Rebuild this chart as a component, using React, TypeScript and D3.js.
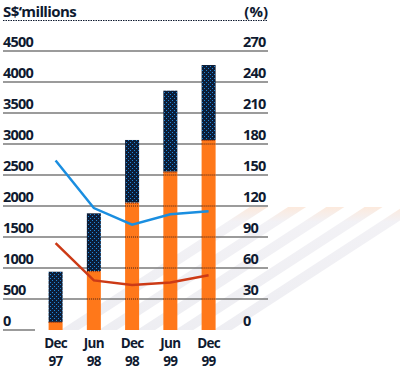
import React, { useEffect, useRef } from "react";
import * as d3 from "d3";

const periods = ["Dec 97", "Jun 98", "Dec 98", "Jun 99", "Dec 99"];
const lowerValues = [130, 950, 2053, 2553, 3065];
const totalValues = [940, 1882, 3065, 3860, 4274];
const bluePct = [164, 118, 102, 112, 115];
const redPct = [84, 48, 43.5, 46, 53];
const leftTicks = [0, 500, 1000, 1500, 2000, 2500, 3000, 3500, 4000, 4500];
const rightTicks = [0, 30, 60, 90, 120, 150, 180, 210, 240, 270];

const W = 400;
const H = 371;

const App: React.FC = () => {
	const ref = useRef<SVGSVGElement>(null);

	useEffect(() => {
		const svg = d3.select(ref.current);
		svg.selectAll("*").remove();

		const font = "'Open Sans', 'Noto Sans', sans-serif";
		const ink = "#0f1a30";
		const gridLeft = 3;
		const gridRight = 268;

		const yL = d3.scaleLinear().domain([0, 4500]).range([330, 51]);
		const yR = d3.scaleLinear().domain([0, 270]).range([330, 51]);
		const x = d3.scalePoint<string>().domain(periods).range([55.6, 208.6]);
		const barW = 14;

		const defs = svg.append("defs");
		const pat = defs
			.append("pattern")
			.attr("id", "dots")
			.attr("width", 4)
			.attr("height", 4)
			.attr("patternUnits", "userSpaceOnUse");
		pat.append("rect").attr("width", 4).attr("height", 4).attr("fill", "#0b1d38");
		pat.append("rect").attr("x", 0).attr("y", 0).attr("width", 1).attr("height", 1).attr("fill", "#1f86d8");
		pat.append("rect").attr("x", 2).attr("y", 2).attr("width", 1).attr("height", 1).attr("fill", "#1f86d8");

		const grad = defs
			.append("linearGradient")
			.attr("id", "shadow")
			.attr("x1", 0)
			.attr("y1", 0)
			.attr("x2", 0)
			.attr("y2", 1);
		grad.append("stop").attr("offset", "0%").attr("stop-color", "#fbe3d2");
		grad.append("stop").attr("offset", "12%").attr("stop-color", "#eeedf2");
		grad.append("stop").attr("offset", "100%").attr("stop-color", "#e8e8ee");

		// shadows cast by bars
		const shadowTop = 207;
		const slope = 0.65;
		const shadows = svg.append("g");
		periods.forEach((p) => {
			const x0 = x(p)! + barW / 2 - 2;
			const w = 18;
			const dx = (330 - shadowTop) / slope;
			shadows
				.append("path")
				.attr("d", `M${x0},330 L${x0 + w},330 L${x0 + w + dx},${shadowTop} L${x0 + dx},${shadowTop} Z`)
				.attr("fill", "url(#shadow)")
				.attr("opacity", 0.75);
		});

		// header
		svg.append("text")
			.attr("x", 3)
			.attr("y", 16.5)
			.attr("font-family", font)
			.attr("font-weight", 700)
			.attr("font-size", 15)
			.attr("letter-spacing", -0.6)
			.attr("fill", ink)
			.text("S$\u2018millions");
		svg.append("text")
			.attr("x", gridRight)
			.attr("y", 16.5)
			.attr("text-anchor", "end")
			.attr("font-family", font)
			.attr("font-weight", 700)
			.attr("font-size", 15)
			.attr("fill", ink)
			.text("(%)");
		svg.append("line")
			.attr("x1", gridLeft)
			.attr("x2", gridRight)
			.attr("y1", 20.5)
			.attr("y2", 20.5)
			.attr("stroke", ink)
			.attr("stroke-width", 1)
			.attr("stroke-dasharray", "1.5,1");

		// gridlines
		const grid = svg.append("g");
		leftTicks.forEach((t) => {
			grid.append("line")
				.attr("x1", gridLeft)
				.attr("x2", t === 0 ? 35 : gridRight)
				.attr("y1", yL(t))
				.attr("y2", yL(t))
				.attr("stroke", "#7a7a7a")
				.attr("stroke-width", 1.5);
		});

		// tick labels
		const labels = svg.append("g")
			.attr("font-family", font)
			.attr("font-weight", 700)
			.attr("font-size", 14.5)
			.attr("letter-spacing", -0.8)
			.attr("fill", ink);
		leftTicks.forEach((t) => {
			labels.append("text").attr("x", gridLeft).attr("y", yL(t) - 4).text(t);
		});
		rightTicks.forEach((t) => {
			labels.append("text").attr("x", 243).attr("y", yR(t) - 4).text(t);
		});

		// bars
		const bars = svg.append("g");
		periods.forEach((p, i) => {
			const bx = x(p)! - barW / 2;
			bars.append("rect")
				.attr("x", bx)
				.attr("y", yL(totalValues[i]))
				.attr("width", barW)
				.attr("height", yL(lowerValues[i]) - yL(totalValues[i]))
				.attr("fill", "url(#dots)");
			bars.append("rect")
				.attr("x", bx)
				.attr("y", yL(lowerValues[i]))
				.attr("width", barW)
				.attr("height", yL(0) - yL(lowerValues[i]))
				.attr("fill", "#ff781a");
			bars.append("line")
				.attr("x1", bx)
				.attr("x2", bx + barW)
				.attr("y1", yL(lowerValues[i]) + 0.5)
				.attr("y2", yL(lowerValues[i]) + 0.5)
				.attr("stroke", "#7a2a10")
				.attr("stroke-dasharray", "1,1");
			leftTicks
				.filter((t) => t > 0 && t < lowerValues[i])
				.forEach((t) => {
					bars.append("line")
						.attr("x1", bx)
						.attr("x2", bx + barW)
						.attr("y1", yL(t))
						.attr("y2", yL(t))
						.attr("stroke", "#3a1a10")
						.attr("stroke-width", 1)
						.attr("stroke-dasharray", "1,1");
				});
		});

		// lines
		const line = d3
			.line<number>()
			.x((_, i) => x(periods[i])!)
			.y((d) => yR(d));
		svg.append("path")
			.attr("d", line(bluePct))
			.attr("fill", "none")
			.attr("stroke", "#1a8ee0")
			.attr("stroke-width", 2.5);
		svg.append("path")
			.attr("d", line(redPct))
			.attr("fill", "none")
			.attr("stroke", "#cc3a16")
			.attr("stroke-width", 2.5);

		// x labels, two lines each
		const xl = svg.append("g")
			.attr("font-family", font)
			.attr("font-weight", 700)
			.attr("font-size", 13.5)
			.attr("letter-spacing", -0.7)
			.attr("fill", ink)
			.attr("text-anchor", "middle");
		periods.forEach((p) => {
			const [m, yr] = p.split(" ");
			xl.append("text").attr("x", x(p)!).attr("y", 348).text(m);
			xl.append("text").attr("x", x(p)!).attr("y", 366).text(yr);
		});
	}, []);

	return (
		<svg
			ref={ref}
			width={W}
			height={H}
			viewBox={`0 0 ${W} ${H}`}
			style={{ position: "absolute", left: 0, top: 0, background: "#fff" }}
		/>
	);
};

export default App;
